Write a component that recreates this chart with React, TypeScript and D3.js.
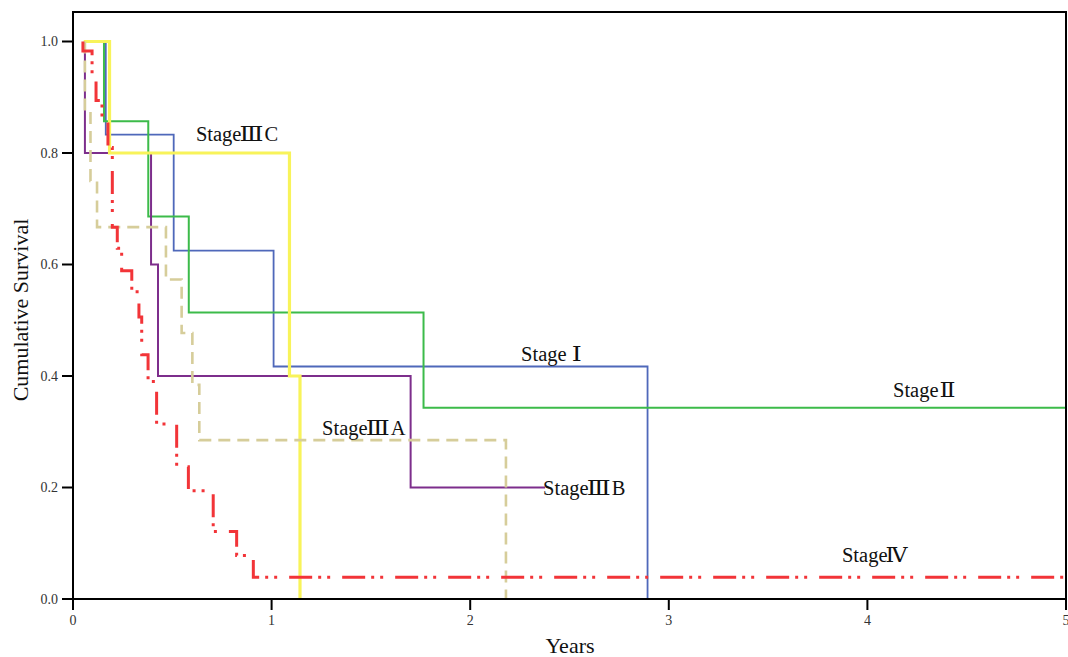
import React from "react";
import * as d3 from "d3";

// ---- data (years, cumulative survival) ----
const xTicks = [0, 1, 2, 3, 4, 5];
const yTicks = [0, 0.2, 0.4, 0.6, 0.8, 1.0];

const stageITimes = [0.076, 0.165, 0.507, 1.01, 2.893];
const stageISurv = [1.0, 0.833, 0.625, 0.417, 0];

const stageIITimes = [0.076, 0.156, 0.379, 0.583, 1.765, 5.0];
const stageIISurv = [1.0, 0.857, 0.686, 0.514, 0.343, 0.343];

const stageIIIATimes = [0.06, 0.06, 0.088, 0.121, 0.468, 0.547, 0.601, 0.636, 2.18];
const stageIIIASurv = [1.0, 0.875, 0.75, 0.667, 0.573, 0.477, 0.384, 0.285, 0];

const stageIIIBTimes = [0.06, 0.06, 0.393, 0.428, 1.7, 2.377];
const stageIIIBSurv = [1.0, 0.8, 0.6, 0.4, 0.2, 0.2];

const stageIIICTimes = [0.054, 0.184, 1.09, 1.143];
const stageIIICSurv = [1.0, 0.8, 0.4, 0];

const stageIVTimes = [0.05, 0.05, 0.096, 0.116, 0.146, 0.176, 0.198, 0.223, 0.245, 0.296, 0.332, 0.346, 0.378, 0.421, 0.522, 0.581, 0.706, 0.824, 0.908, 5.0];
const stageIVSurv = [1.0, 0.983, 0.935, 0.894, 0.859, 0.81, 0.667, 0.629, 0.589, 0.551, 0.506, 0.438, 0.39, 0.314, 0.237, 0.194, 0.121, 0.078, 0.039, 0.039];

// label = prefix + roman numeral + suffix, anchored at (time, survival)
const labelPrefix = ["Stage", "Stage", "Stage", "Stage", "Stage", "Stage"];
const labelNumeral = ["Ⅲ", "Ⅰ", "Ⅱ", "Ⅲ", "Ⅲ", "Ⅳ"];
const labelSuffix = ["C", "", "", "A", "B", ""];
const labelTimes = [0.619, 2.256, 4.129, 1.254, 2.367, 3.872];
const labelSurv = [0.8215, 0.427, 0.362, 0.294, 0.1865, 0.066];

// glyph styling for the roman numerals (gap before, rendered width)
const numeralStyle: Record<string, { gap: number; w: number }> = {
  "Ⅰ": { gap: 5, w: 10 },
  "Ⅱ": { gap: 1, w: 16 },
  "Ⅲ": { gap: -2, w: 24 },
  "Ⅳ": { gap: -2, w: 22 },
};

type Series = { t: number[]; s: number[]; color: string; width: number; dash?: string };

const series: Series[] = [
  { t: stageITimes, s: stageISurv, color: "#4f68ba", width: 1.8 },
  { t: stageIITimes, s: stageIISurv, color: "#3cbb4a", width: 2 },
  { t: stageIIIBTimes, s: stageIIIBSurv, color: "#7d2e8c", width: 2 },
  { t: stageIIICTimes, s: stageIIICSurv, color: "#f8f35a", width: 3.2 },
  { t: stageIIIATimes, s: stageIIIASurv, color: "#d6cd9a", width: 2.6, dash: "12,7" },
  { t: stageIVTimes, s: stageIVSurv, color: "#f23438", width: 3, dash: "23,6,3,6,3,12" },
];

const W = 1068;
const H = 657;
const L = 73, R = 1066, T = 12, B = 599;
const STAGE_W = 45.6;

export default function App() {
  const x = d3.scaleLinear().domain([0, 5]).range([L, R]);
  const y = d3.scaleLinear().domain([0, 1]).range([B, 41.5]);
  const line = d3
    .line<[number, number]>()
    .x((d) => x(d[0]))
    .y((d) => y(d[1]))
    .curve(d3.curveStepAfter);

  const serif = "'Liberation Serif', 'DejaVu Serif', serif";
  const numFont = "'DejaVu Serif', serif";

  return (
    <svg width={W} height={H} style={{ position: "absolute", left: 0, top: 0, background: "#fff" }}>
      <rect x={0} y={0} width={W} height={H} fill="#fff" />
      {series.map((sr, i) => (
        <path
          key={i}
          d={line(sr.t.map((t, j) => [t, sr.s[j]] as [number, number])) || ""}
          fill="none"
          stroke={sr.color}
          strokeWidth={sr.width}
          strokeDasharray={sr.dash}
        />
      ))}
      {/* frame */}
      <rect x={L} y={T} width={R - L} height={B - T} fill="none" stroke="#000" strokeWidth={2} />
      {/* y ticks */}
      {yTicks.map((v) => (
        <g key={"y" + v}>
          <line x1={L - 11} x2={L} y1={y(v)} y2={y(v)} stroke="#000" strokeWidth={2} />
          <text x={L - 15} y={y(v) + 4.5} textAnchor="end" fontSize={14} fontFamily={serif} fill="#333">
            {v.toFixed(1)}
          </text>
        </g>
      ))}
      {/* x ticks */}
      {xTicks.map((v) => (
        <g key={"x" + v}>
          <line x1={x(v)} x2={x(v)} y1={B} y2={B + 11} stroke="#000" strokeWidth={2} />
          <text x={x(v)} y={B + 26} textAnchor="middle" fontSize={14} fontFamily={serif} fill="#333">
            {v}
          </text>
        </g>
      ))}
      <text x={570} y={653} textAnchor="middle" fontSize={22} fontFamily={serif} fill="#111">
        Years
      </text>
      <text
        transform={`translate(28,${310}) rotate(-90)`}
        textAnchor="middle"
        fontSize={22}
        fontFamily={serif}
        fill="#111"
      >
        Cumulative Survival
      </text>
      {labelPrefix.map((p, i) => {
        const x0 = x(labelTimes[i]);
        const yb = y(labelSurv[i]);
        const ns = numeralStyle[labelNumeral[i]];
        const xn = x0 + STAGE_W + ns.gap;
        return (
          <g key={i} fill="#111">
            <text x={x0} y={yb} fontSize={20.5} fontFamily={serif}>
              {p}
            </text>
            <text
              x={xn}
              y={yb}
              fontSize={20}
              fontFamily={numFont}
              textLength={ns.w}
              lengthAdjust="spacingAndGlyphs"
            >
              {labelNumeral[i]}
            </text>
            {labelSuffix[i] && (
              <text x={xn + ns.w + 1} y={yb} fontSize={20.5} fontFamily={serif}>
                {labelSuffix[i]}
              </text>
            )}
          </g>
        );
      })}
    </svg>
  );
}
